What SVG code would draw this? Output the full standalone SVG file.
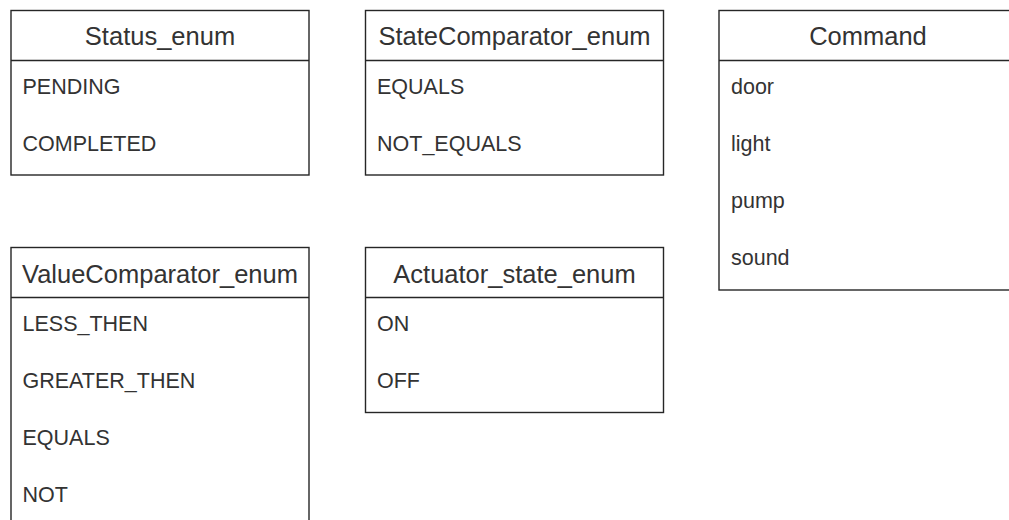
<svg xmlns="http://www.w3.org/2000/svg" width="1009" height="520" viewBox="0 0 1009 520">
<style>
.box{fill:#ffffff;stroke:#262626;stroke-width:1.4}
.sep{stroke:#262626;stroke-width:1.4;fill:none}
.title{font-family:"Liberation Sans",Arial,sans-serif;font-size:25.5px;fill:#333333;text-anchor:middle}
.item{font-family:"Liberation Sans",Arial,sans-serif;font-size:21.5px;fill:#333333}
</style>
<rect width="1009" height="520" fill="#ffffff"/>
<g id="Status_enum">
<rect class="box" x="11" y="10.5" width="298" height="164.5"/>
<line class="sep" x1="11" y1="60.5" x2="309" y2="60.5"/>
<text class="title" x="160" y="45">Status_enum</text>
<text class="item" x="22.5" y="94">PENDING</text>
<text class="item" x="22.5" y="151">COMPLETED</text>
</g>
<g id="StateComparator_enum">
<rect class="box" x="365.5" y="10.5" width="298" height="164.5"/>
<line class="sep" x1="365.5" y1="60.5" x2="663.5" y2="60.5"/>
<text class="title" x="514.5" y="45">StateComparator_enum</text>
<text class="item" x="377" y="94">EQUALS</text>
<text class="item" x="377" y="151">NOT_EQUALS</text>
</g>
<g id="Command">
<rect class="box" x="719" y="10.5" width="298" height="279.5"/>
<line class="sep" x1="719" y1="60.5" x2="1017" y2="60.5"/>
<text class="title" x="868" y="45">Command</text>
<text class="item" x="731" y="94">door</text>
<text class="item" x="731" y="151">light</text>
<text class="item" x="731" y="208">pump</text>
<text class="item" x="731" y="265">sound</text>
</g>
<g id="ValueComparator_enum">
<rect class="box" x="11" y="247.5" width="298" height="290"/>
<line class="sep" x1="11" y1="297.5" x2="309" y2="297.5"/>
<text class="title" x="160" y="283">ValueComparator_enum</text>
<text class="item" x="22.5" y="331">LESS_THEN</text>
<text class="item" x="22.5" y="388">GREATER_THEN</text>
<text class="item" x="22.5" y="445">EQUALS</text>
<text class="item" x="22.5" y="502">NOT</text>
</g>
<g id="Actuator_state_enum">
<rect class="box" x="365.5" y="247.5" width="298" height="165"/>
<line class="sep" x1="365.5" y1="297.5" x2="663.5" y2="297.5"/>
<text class="title" x="514.5" y="283">Actuator_state_enum</text>
<text class="item" x="377" y="331">ON</text>
<text class="item" x="377" y="388">OFF</text>
</g>
<g id="connectors"/>
</svg>
